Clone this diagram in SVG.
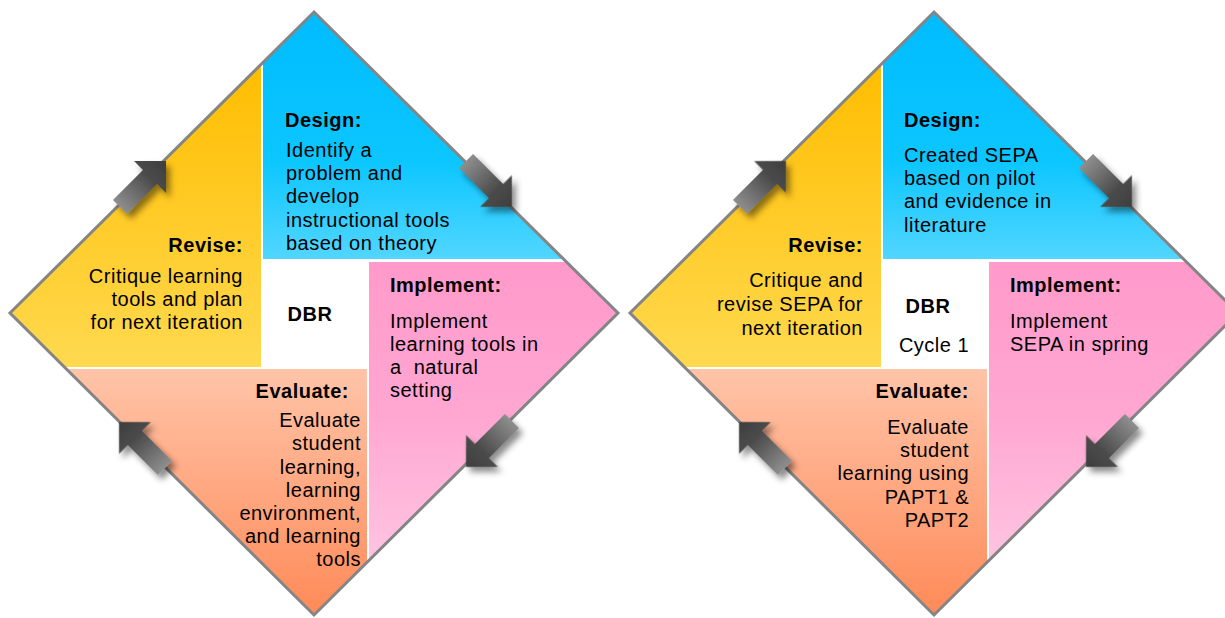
<svg xmlns="http://www.w3.org/2000/svg" width="1225" height="618" viewBox="0 0 1225 618">
<style>
text{font-family:"Liberation Sans",Arial,Helvetica,sans-serif;font-size:20px;letter-spacing:0.5px;fill:#000}
.b{font-weight:bold}
.e{text-anchor:end}
.m{text-anchor:middle}
.outline{fill:none;stroke:#858585;stroke-width:3;stroke-linejoin:miter}
</style>
<defs>
<clipPath id="dia"><polygon points="314,12 618,313 314,615 10,313"/></clipPath>
<linearGradient id="gY" gradientUnits="userSpaceOnUse" x1="0" y1="65" x2="0" y2="367"><stop offset="0" stop-color="#FFBD00"/><stop offset="1" stop-color="#FFD94F"/></linearGradient>
<linearGradient id="gB" gradientUnits="userSpaceOnUse" x1="0" y1="12" x2="0" y2="259"><stop offset="0" stop-color="#00BCFF"/><stop offset="0.6" stop-color="#0BC6FF"/><stop offset="1" stop-color="#52D6FF"/></linearGradient>
<linearGradient id="gP" gradientUnits="userSpaceOnUse" x1="0" y1="262" x2="0" y2="560"><stop offset="0" stop-color="#FF9ACB"/><stop offset="0.5" stop-color="#FFA6D1"/><stop offset="1" stop-color="#FFC4E1"/></linearGradient>
<linearGradient id="gS" gradientUnits="userSpaceOnUse" x1="0" y1="369" x2="0" y2="615"><stop offset="0" stop-color="#FFC4A8"/><stop offset="1" stop-color="#FF8A58"/></linearGradient>
<linearGradient id="gA" x1="0" y1="0" x2="1" y2="0"><stop offset="0" stop-color="#8E8E8E"/><stop offset="0.65" stop-color="#4A4A4A"/><stop offset="1" stop-color="#3E3E3E"/></linearGradient>
<filter id="sh" x="-30%" y="-30%" width="160%" height="160%"><feDropShadow dx="4" dy="5" stdDeviation="3" flood-color="#000" flood-opacity="0.45"/></filter>
<path id="arr" d="M0,0 L-22.6,-22.6 L-22.6,-10 L-65,-10 L-65,10 L-22.6,10 L-22.6,22.6 Z" fill="url(#gA)"/>
</defs>

<g id="diagram-left">
  <g clip-path="url(#dia)">
    <g id="revise-1"><rect x="0" y="0" width="261" height="367" fill="url(#gY)"/></g>
    <g id="design-1"><rect x="263" y="0" width="400" height="259" fill="url(#gB)"/></g>
    <g id="implement-1"><rect x="369" y="262" width="300" height="400" fill="url(#gP)"/></g>
    <g id="evaluate-1"><rect x="0" y="369" width="367" height="300" fill="url(#gS)"/></g>
  </g>
  <polygon class="outline" points="314,12 618,313 314,615 10,313"/>
  <g id="design-1-text">
    <text class="b" x="285" y="127">Design:</text>
    <text x="286" y="157">Identify a</text>
    <text x="286" y="180">problem and</text>
    <text x="286" y="203">develop</text>
    <text x="286" y="227">instructional tools</text>
    <text x="286" y="250">based on theory</text>
  </g>
  <g id="revise-1-text">
    <text class="b e" x="243" y="252">Revise:</text>
    <text class="e" x="243" y="283">Critique learning</text>
    <text class="e" x="243" y="306">tools and plan</text>
    <text class="e" x="243" y="329">for next iteration</text>
  </g>
  <g id="center-1"><text class="b m" x="310" y="321">DBR</text></g>
  <g id="implement-1-text">
    <text class="b" x="390" y="292">Implement:</text>
    <text x="390" y="328">Implement</text>
    <text x="390" y="351">learning tools in</text>
    <text x="390" y="374" xml:space="preserve">a  natural</text>
    <text x="390" y="397">setting</text>
  </g>
  <g id="evaluate-1-text">
    <text class="b e" x="349" y="398">Evaluate:</text>
    <text class="e" x="361" y="427">Evaluate</text>
    <text class="e" x="361" y="450">student</text>
    <text class="e" x="361" y="474">learning,</text>
    <text class="e" x="361" y="497">learning</text>
    <text class="e" x="361" y="520">environment,</text>
    <text class="e" x="361" y="543">and learning</text>
    <text class="e" x="361" y="566">tools</text>
  </g>
</g>

<g id="diagram-right" transform="translate(620,0)">
  <g clip-path="url(#dia)">
    <g id="revise-2"><rect x="0" y="0" width="261" height="367" fill="url(#gY)"/></g>
    <g id="design-2"><rect x="263" y="0" width="400" height="259" fill="url(#gB)"/></g>
    <g id="implement-2"><rect x="369" y="262" width="300" height="400" fill="url(#gP)"/></g>
    <g id="evaluate-2"><rect x="0" y="369" width="367" height="300" fill="url(#gS)"/></g>
  </g>
  <polygon class="outline" points="314,12 618,313 314,615 10,313"/>
</g>
<g id="design-2-text">
  <text class="b" x="904" y="127">Design:</text>
  <text x="904" y="162">Created SEPA</text>
  <text x="904" y="185">based on pilot</text>
  <text x="904" y="208">and evidence in</text>
  <text x="904" y="232">literature</text>
</g>
<g id="revise-2-text">
  <text class="b e" x="863" y="252">Revise:</text>
  <text class="e" x="863" y="287">Critique and</text>
  <text class="e" x="863" y="311">revise SEPA for</text>
  <text class="e" x="863" y="335">next iteration</text>
</g>
<g id="center-2">
  <text class="b m" x="928" y="313">DBR</text>
  <text class="m" x="934" y="352">Cycle 1</text>
</g>
<g id="implement-2-text">
  <text class="b" x="1010" y="292">Implement:</text>
  <text x="1010" y="328">Implement</text>
  <text x="1010" y="351">SEPA in spring</text>
</g>
<g id="evaluate-2-text">
  <text class="b e" x="969" y="398">Evaluate:</text>
  <text class="e" x="969" y="434">Evaluate</text>
  <text class="e" x="969" y="457">student</text>
  <text class="e" x="969" y="480">learning using</text>
  <text class="e" x="969" y="504">PAPT1 &amp;</text>
  <text class="e" x="969" y="527">PAPT2</text>
</g>

<g id="connectors" filter="url(#sh)">
  <use href="#arr" transform="translate(166,161) rotate(-45)"/>
  <use href="#arr" transform="translate(512,207) rotate(45)"/>
  <use href="#arr" transform="translate(466,467) rotate(135)"/>
  <use href="#arr" transform="translate(119,422) rotate(-135)"/>
  <use href="#arr" transform="translate(786,161) rotate(-45)"/>
  <use href="#arr" transform="translate(1132,207) rotate(45)"/>
  <use href="#arr" transform="translate(1086,467) rotate(135)"/>
  <use href="#arr" transform="translate(739,422) rotate(-135)"/>
</g>
</svg>
